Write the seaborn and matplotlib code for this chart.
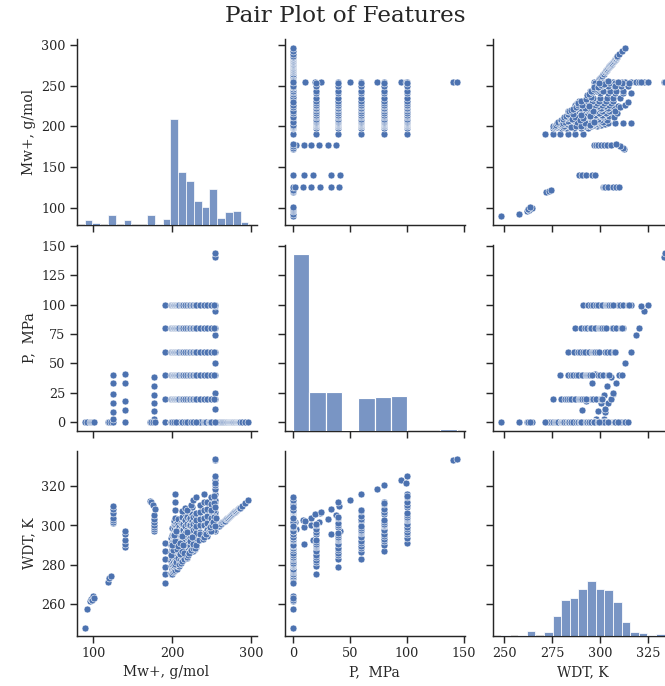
import pandas as pd
import seaborn as sns
import matplotlib
matplotlib.use("Agg")
import matplotlib.pyplot as plt

COL_MW, COL_P, COL_T = "Mw+, g/mol", "P,  MPa", "WDT, K"
FEATURES = [COL_MW, COL_P, COL_T]
HIST_BINS = {COL_MW: 21, COL_P: 10, COL_T: 19}

# Light fractions, atmospheric pressure only
light_mw = [89, 92, 95.5, 96.5, 98, 100, 100.5]
light_p = [0, 0, 0, 0, 0, 0, 0]
light_wdt = [248.2, 257.5, 262, 263, 262.5, 264.5, 263.5]

mid_mw = [119, 120.5, 122]
mid_p = [0, 0, 0]
mid_wdt = [271.5, 273.5, 274.5]

# Single-fluid pressure series
s125_mw = [125, 125, 125, 125, 125, 125, 125]
s125_p = [0, 2.3, 8.6, 16.3, 24, 33.5, 40.4]
s125_wdt = [301.5, 302, 302.8, 304, 306.5, 308.5, 310]

s140_mw = [140, 140, 140, 140, 140]
s140_p = [0, 10, 17.8, 33.5, 41]
s140_wdt = [289, 290.6, 292.5, 295.7, 297.4]

s177_mw = [177, 177, 177, 177, 177, 177, 177, 172, 173.5, 175.5, 178.5]
s177_p = [0, 3, 9.5, 16, 23, 31, 38, 0, 0, 0, 0]
s177_wdt = [297, 298, 299, 300.5, 302, 303.5, 305.5, 312.5, 312, 310.5, 308.5]

s190_mw = [190.5, 190.5, 190.5, 190.5, 190.5, 190.5]
s190_p = [0, 20, 40, 60, 80, 100]
s190_wdt = [271, 275.5, 279, 283, 287, 291]

s255_mw = [255, 255, 255, 255, 255, 255, 255, 255, 255, 255, 255, 255, 255, 255]
s255_p = [0, 11, 19.5, 25, 40, 50, 60, 74, 80, 94.5, 99, 100, 140, 143.5]
s255_wdt = [297, 302.5, 305.6, 307, 311.7, 313, 316, 318.7, 320.5, 323, 321.5,
            325, 333.2, 333.7]

# Heavy fractions, atmospheric pressure
heavy_mw = [258, 259.5, 261, 262.5, 264, 265, 266.5, 267.5, 268.5, 269.5, 270,
            271, 272, 272.5, 273.5, 274, 275, 275.5, 276, 276.5, 277.5, 278,
            279, 279.5, 280.5, 281, 282, 282.5, 283.5, 284, 285, 285.5, 286,
            286.5, 289, 293, 297]
heavy_wdt = [299.6, 299.9, 300.6, 300.9, 301.6, 301.8, 302.5, 302.5, 303.1,
             303.3, 303.6, 303.8, 304.3, 304.3, 304.9, 304.8, 305.4, 305.3,
             305.7, 305.7, 306.2, 306.2, 306.7, 306.7, 307.2, 307.2, 307.7,
             307.7, 308.2, 308.2, 308.7, 308.7, 309.1, 309.0, 310.0, 311.6,
             312.8]

# Mixtures measured at 0-100 MPa
mix_p = [0, 20, 40, 60, 80, 100]
mix_mw = [198.5, 200, 201, 202, 202.5, 203, 204, 204.5, 205, 206, 207, 207.5,
          209, 211, 212.5, 214, 216, 217, 219, 221, 223, 225, 227, 229, 231,
          235, 241, 244, 250, 253]
mix_wdt = [
    [276, 279.5, 283, 286.5, 290, 293.5],
    [281, 284.8, 288.1, 291.4, 295.2, 298.6],
    [278, 281.5, 285, 288.5, 292, 295.5],
    [283, 286.5, 290, 293.5, 297, 300.5],
    [280, 283.5, 287, 290.5, 294, 297.5],
    [285, 288.5, 292, 295.5, 299, 302.5],
    [296, 300, 304, 308, 312, 316],
    [279, 282.5, 286, 289.5, 293, 296.5],
    [282, 285.5, 289, 292.5, 296, 299.5],
    [284, 287.5, 291, 294.5, 298, 301.5],
    [280.5, 284, 287.5, 291, 294.5, 298],
    [286, 289.5, 293, 296.5, 300, 303.5],
    [281.5, 285, 288.5, 292, 295.5, 299],
    [284, 287.5, 291, 294.5, 298, 301.5],
    [287, 290.5, 294, 297.5, 301, 304.5],
    [283.5, 287, 290.5, 294, 297.5, 301],
    [289, 292.5, 296, 299.5, 303, 306.5],
    [285.5, 289, 292.5, 296, 299.5, 303],
    [287, 290.5, 294, 297.5, 301, 304.5],
    [286, 289.5, 293, 296.5, 300, 303.5],
    [286.5, 290, 293.5, 297, 300.5, 304],
    [292, 295.5, 299, 302.5, 306, 309.5],
    [287, 290.5, 294, 297.5, 301, 304.5],
    [288, 291.5, 295, 298.5, 302, 305.5],
    [289, 292.5, 296, 299.5, 303, 306.5],
    [293, 296.5, 300, 303.5, 307, 310.5],
    [296, 300, 304, 308, 312, 316],
    [294.5, 298, 301.5, 305, 308.5, 312],
    [297, 300.5, 304, 307.5, 311, 314.5],
    [297.5, 301, 304.5, 308, 311.5, 315],
]

# Further atmospheric-pressure fluids in the 198-256 g/mol range
atm_mw = [198.5, 199, 199.5, 200, 200.5, 201, 201.5, 202, 203, 204, 205, 206,
          207, 208.5,
          198.5, 199.5, 200, 201, 202, 202.5, 203.5, 204, 205, 205.5, 207, 209,
          210, 211, 212, 213, 214, 215.5, 218.5, 219.5,
          199, 201, 206, 209.5, 212, 215, 220, 222, 224, 226, 229,
          200, 204, 207.5, 210, 214.5, 223, 227, 231, 234, 239,
          202, 205, 212.5, 219, 225, 236, 240, 242, 245, 243.5, 246.5, 248, 249,
          212, 216, 219, 224, 227, 230,
          248.5, 251, 252, 254, 256, 250, 255]
atm_wdt = [275.5, 276, 277.5, 275.5, 278, 276.5, 279, 277, 278.5, 277.5, 279,
           278, 279.5, 279.5,
           282, 280.5, 283.5, 281, 284, 280, 282.5, 280.5, 283, 281.5, 283.5,
           280.5, 282.5, 281, 283.5, 282, 284, 283, 283.5, 284,
           285, 287.5, 288, 285.5, 287, 286, 285, 286, 287.5, 288.5, 288.5,
           290, 292, 289.5, 291, 290, 292, 290.5, 290, 292.5, 293,
           295, 297, 294.5, 296.5, 294, 295.5, 294, 296, 297.5, 295.5, 297,
           297.5, 297,
           307.5, 309, 308, 310.5, 313, 314.5,
           299, 300.5, 302, 299.5, 304, 308, 309.5]

mw, p, wdt = [], [], []
for a, b, c in [(light_mw, light_p, light_wdt), (mid_mw, mid_p, mid_wdt),
                (s125_mw, s125_p, s125_wdt), (s140_mw, s140_p, s140_wdt),
                (s177_mw, s177_p, s177_wdt), (s190_mw, s190_p, s190_wdt),
                (s255_mw, s255_p, s255_wdt)]:
    mw += a
    p += b
    wdt += c
mw += heavy_mw
p += [0] * len(heavy_mw)
wdt += heavy_wdt
for m, temps in zip(mix_mw, mix_wdt):
    mw += [m] * len(mix_p)
    p += mix_p
    wdt += temps
mw += atm_mw
p += [0] * len(atm_mw)
wdt += atm_wdt

df = pd.DataFrame({COL_MW: mw, COL_P: p, COL_T: wdt})

sns.set_theme(style="ticks", font="DejaVu Serif")


def diag_hist(x, **kws):
    sns.histplot(x=x, bins=HIST_BINS[x.name], ax=plt.gca(), legend=False)


g = sns.PairGrid(df, vars=FEATURES, height=2.5)
g.map_offdiag(sns.scatterplot)
g.map_diag(diag_hist)

fig = g.figure
fig.set_size_inches(8.001, 8.253)
fig.subplots_adjust(left=76.5 / 665, right=672.7 / 665,
                    bottom=1 - 636.2 / 686, top=1 - 39.3 / 686,
                    wspace=28 / 180, hspace=20 / 186)
fig.suptitle("Pair Plot of Features", x=0.519, y=0.993, fontsize=20)
fig.savefig("out.png", dpi=83.125)
